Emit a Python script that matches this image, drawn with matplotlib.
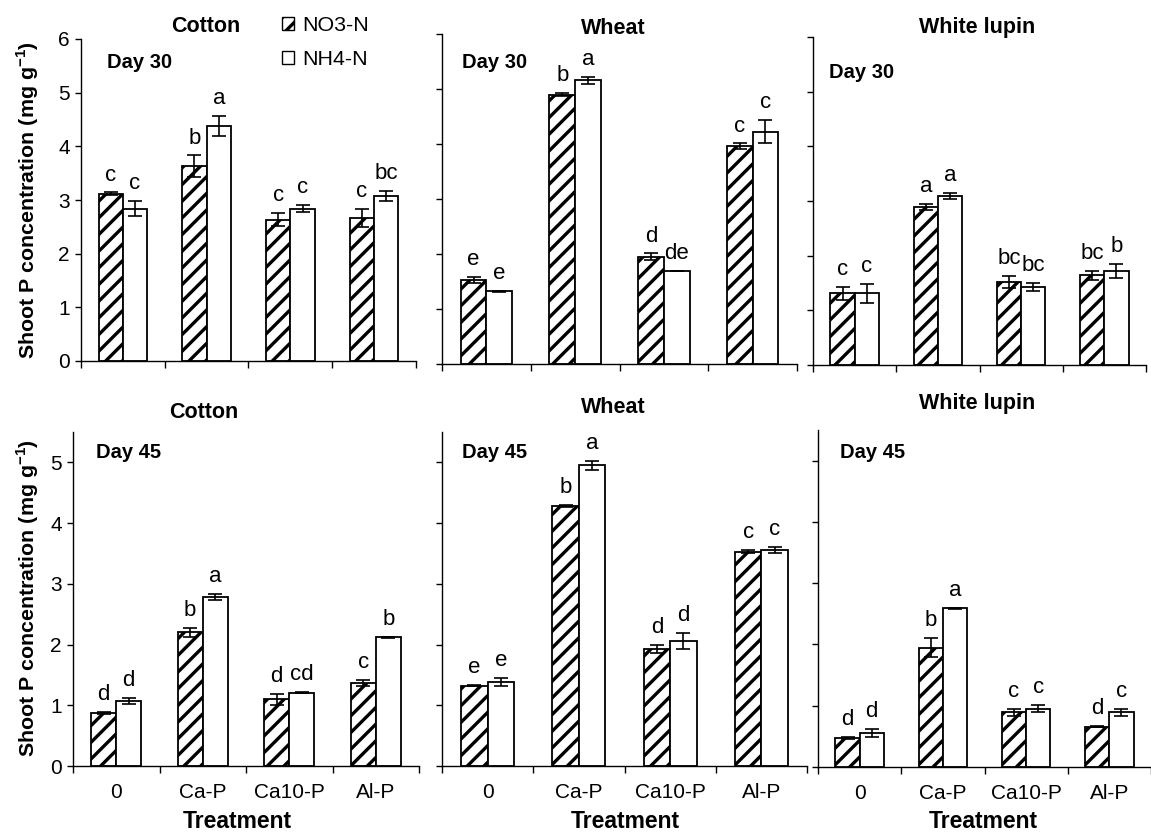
import matplotlib
matplotlib.use("Agg")
import matplotlib.pyplot as plt
from matplotlib.patches import Patch
import numpy as np

plt.rcParams['font.family'] = ['Liberation Sans', 'DejaVu Sans']
plt.rcParams['mathtext.fontset'] = 'custom'
plt.rcParams['mathtext.bf'] = 'Liberation Sans:bold'
plt.rcParams['mathtext.rm'] = 'Liberation Sans'
plt.rcParams['hatch.linewidth'] = 2.4
plt.rcParams['hatch.color'] = 'black'

treatments = ['0', 'Ca-P', 'Ca10-P', 'Al-P']

# Day 30
cotton30_no3 = [3.12, 3.63, 2.63, 2.66]
cotton30_no3_err = [0.02, 0.20, 0.12, 0.17]
cotton30_nh4 = [2.84, 4.38, 2.84, 3.08]
cotton30_nh4_err = [0.14, 0.18, 0.06, 0.09]
cotton30_no3_let = ['c', 'b', 'c', 'c']
cotton30_nh4_let = ['c', 'a', 'c', 'bc']

wheat30_no3 = [1.53, 4.90, 1.95, 3.96]
wheat30_no3_err = [0.05, 0.02, 0.06, 0.05]
wheat30_nh4 = [1.32, 5.16, 1.70, 4.22]
wheat30_nh4_err = [0.01, 0.06, 0.0, 0.21]
wheat30_no3_let = ['e', 'b', 'd', 'c']
wheat30_nh4_let = ['e', 'a', 'de', 'c']

lupin30_no3 = [1.31, 2.89, 1.52, 1.64]
lupin30_no3_err = [0.12, 0.06, 0.11, 0.08]
lupin30_nh4 = [1.31, 3.09, 1.43, 1.72]
lupin30_nh4_err = [0.17, 0.05, 0.07, 0.12]
lupin30_no3_let = ['c', 'a', 'bc', 'bc']
lupin30_nh4_let = ['c', 'a', 'bc', 'b']

# Day 45
cotton45_no3 = [0.87, 2.20, 1.10, 1.37]
cotton45_no3_err = [0.02, 0.08, 0.09, 0.05]
cotton45_nh4 = [1.07, 2.78, 1.21, 2.12]
cotton45_nh4_err = [0.055, 0.05, 0.01, 0.01]
cotton45_no3_let = ['d', 'b', 'd', 'c']
cotton45_nh4_let = ['d', 'a', 'cd', 'b']

wheat45_no3 = [1.32, 4.28, 1.93, 3.53]
wheat45_no3_err = [0.01, 0.02, 0.07, 0.02]
wheat45_nh4 = [1.39, 4.95, 2.06, 3.56]
wheat45_nh4_err = [0.065, 0.075, 0.135, 0.05]
wheat45_no3_let = ['e', 'b', 'd', 'c']
wheat45_nh4_let = ['e', 'a', 'd', 'c']

lupin45_no3 = [0.47, 1.95, 0.89, 0.66]
lupin45_no3_err = [0.02, 0.16, 0.06, 0.01]
lupin45_nh4 = [0.55, 2.59, 0.95, 0.89]
lupin45_nh4_err = [0.065, 0.01, 0.055, 0.05]
lupin45_no3_let = ['d', 'b', 'c', 'd']
lupin45_nh4_let = ['d', 'a', 'c', 'c']

W, H = 1151, 834
fig = plt.figure(figsize=(W / 100, H / 100), dpi=100)
fig.patch.set_facecolor('white')


def px_axes(x0, y0, x1, y1):
    return fig.add_axes([x0 / W, 1 - y1 / H, (x1 - x0) / W, (y1 - y0) / H])


def fig_text(x, y, s, **kw):
    fig.text(x / W, 1 - y / H, s, **kw)


bw = 0.29
x = np.arange(len(treatments))


def draw_panel(ax, no3, no3_err, nh4, nh4_err, no3_let, nh4_let, ymax, yticks, show_y, show_x):
    kw = dict(width=bw, edgecolor='black', linewidth=1.3,
              error_kw=dict(elinewidth=1.2, capsize=5, capthick=1.2, ecolor='black'))
    ax.bar(x - bw / 2, no3, yerr=no3_err, color='white', hatch='//', **kw)
    ax.bar(x + bw / 2, nh4, yerr=nh4_err, color='white', **kw)
    for i in range(len(treatments)):
        ax.annotate(no3_let[i], (x[i] - bw / 2, no3[i] + no3_err[i]), xytext=(0, 5),
                    textcoords='offset points', ha='center', va='bottom', fontsize=16)
        ax.annotate(nh4_let[i], (x[i] + bw / 2, nh4[i] + nh4_err[i]), xytext=(0, 5),
                    textcoords='offset points', ha='center', va='bottom', fontsize=16)
    ax.set_xlim(-0.5, len(treatments) - 0.5)
    ax.set_ylim(0, ymax)
    ax.set_yticks(yticks)
    ax.spines['top'].set_visible(False)
    ax.spines['right'].set_visible(False)
    ax.spines['left'].set_linewidth(1.0)
    ax.spines['bottom'].set_linewidth(1.0)
    ax.set_xticks(np.arange(len(treatments) + 1) - 0.5)
    ax.set_xticklabels([])
    ax.tick_params(axis='x', direction='out', length=5, width=1)
    ax.tick_params(axis='y', direction='out', length=4, width=1, labelsize=15, pad=4)
    if show_x:
        ax.set_xticks(x, minor=True)
        ax.set_xticklabels(treatments, minor=True, fontsize=15)
        ax.tick_params(axis='x', which='minor', length=0, pad=12)
    if not show_y:
        ax.set_yticklabels([])


ax1 = px_axes(81, 39, 416, 361)
draw_panel(ax1, cotton30_no3, cotton30_no3_err, cotton30_nh4, cotton30_nh4_err,
           cotton30_no3_let, cotton30_nh4_let, 6, range(0, 7), True, False)
ax2 = px_axes(442, 34, 797, 364)
draw_panel(ax2, wheat30_no3, wheat30_no3_err, wheat30_nh4, wheat30_nh4_err,
           wheat30_no3_let, wheat30_nh4_let, 6, range(0, 7), False, False)
ax3 = px_axes(813, 37, 1146, 365)
draw_panel(ax3, lupin30_no3, lupin30_no3_err, lupin30_nh4, lupin30_nh4_err,
           lupin30_no3_let, lupin30_nh4_let, 6, range(0, 7), False, False)
ax4 = px_axes(73, 432, 419, 766)
draw_panel(ax4, cotton45_no3, cotton45_no3_err, cotton45_nh4, cotton45_nh4_err,
           cotton45_no3_let, cotton45_nh4_let, 5.5, range(0, 6), True, True)
ax5 = px_axes(442, 432, 807, 766)
draw_panel(ax5, wheat45_no3, wheat45_no3_err, wheat45_nh4, wheat45_nh4_err,
           wheat45_no3_let, wheat45_nh4_let, 5.5, range(0, 6), False, True)
ax6 = px_axes(818, 430, 1151, 767)
draw_panel(ax6, lupin45_no3, lupin45_no3_err, lupin45_nh4, lupin45_nh4_err,
           lupin45_no3_let, lupin45_nh4_let, 5.5, range(0, 6), False, True)

# titles
for (tx, ty, s) in [(206, 27, 'Cotton'), (613, 28, 'Wheat'), (977, 28, 'White lupin'),
                    (204, 413, 'Cotton'), (613, 407, 'Wheat'), (977, 404, 'White lupin')]:
    fig_text(tx, ty, s, ha='center', va='center', fontsize=15.5, fontweight='bold')

for (tx, ty, s) in [(107, 62, 'Day 30'), (462, 63, 'Day 30'), (829, 72, 'Day 30'),
                    (96, 453, 'Day 45'), (462, 453, 'Day 45'), (840, 453, 'Day 45')]:
    fig_text(tx, ty, s, ha='left', va='center', fontsize=14.5, fontweight='bold')

for tx in [237, 625, 983]:
    fig_text(tx, 821, 'Treatment', ha='center', va='center', fontsize=16.5, fontweight='bold')

ylab = r'Shoot P concentration (mg g$^{\mathbf{-1}}$)'
fig_text(28, 200, ylab, ha='center', va='center', rotation=90, fontsize=15.4, fontweight='bold')
fig_text(28, 598, ylab, ha='center', va='center', rotation=90, fontsize=15.4, fontweight='bold')

handles = [Patch(facecolor='white', edgecolor='black', hatch='//', linewidth=1.0),
           Patch(facecolor='white', edgecolor='black', linewidth=1.0)]
fig.legend(handles, ['NO3-N', 'NH4-N'], loc='upper left', bbox_to_anchor=(282 / W, 1 - 16 / H),
           frameon=False, fontsize=15.4, handlelength=0.56, handleheight=0.56,
           handletextpad=0.4, labelspacing=0.69, borderpad=0, borderaxespad=0)

fig.savefig('out.png', dpi=100, facecolor='white')
